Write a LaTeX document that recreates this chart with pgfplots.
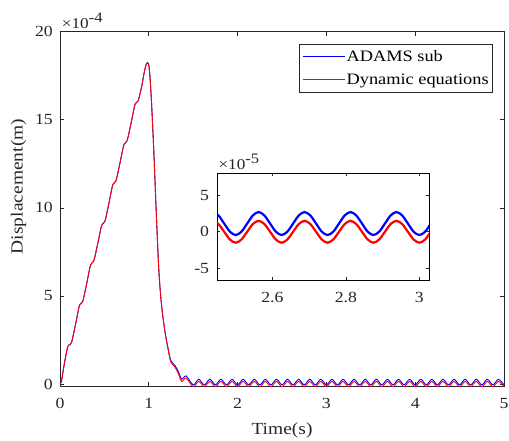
\documentclass[border=0pt]{standalone}
\usepackage{fontspec}
\setmainfont{Liberation Serif}[FakeStretch=1.15]
\usepackage{pgfplots}
\pgfplotsset{compat=1.18}
\usepackage{pgfplotstable}

\definecolor{adams}{RGB}{0,0,255}
\definecolor{dyneq}{RGB}{255,0,0}
\definecolor{axline}{RGB}{38,38,38}

% main curve, displacement in 1e-4 m
\pgfplotstableread{
t b r
0 0 0
0.015 0.12 0.12
0.037 0.8 0.8
0.064 1.57 1.57
0.086 2.1 2.1
0.1 2.22 2.22
0.13 2.36 2.36
0.1775 3.45 3.45
0.22 4.48 4.48
0.255 4.68 4.68
0.3025 5.75 5.75
0.345 6.78 6.78
0.38 6.98 6.98
0.4275 8.03 8.03
0.47 9.03 9.03
0.505 9.23 9.23
0.5525 10.3 10.3
0.595 11.33 11.33
0.63 11.53 11.53
0.6775 12.6 12.6
0.72 13.6 13.6
0.755 13.8 13.8
0.8025 14.86 14.86
0.845 15.88 15.88
0.88 16.08 16.08
0.92 16.9 16.9
0.945 17.6 17.6
0.965 18.05 18.05
0.983 18.24 18.24
1.0 18.1 18.1
1.015 17.3 17.3
1.033 15.75 15.75
1.059 12.9 12.9
1.089 9.13 9.13
1.115 6.3 6.3
1.145 4.4 4.4
1.183 2.95 2.95
1.22 1.95 1.9
1.246 1.35 1.28
1.27 1.18 1.1
1.295 1.05 0.96
1.332 0.72 0.6
1.37 0.28 0.15
1.42 0.46 0.34
1.5 -0.045 -0.15
1.5625 0.271 0.15
1.625 -0.045 -0.15
1.6875 0.271 0.15
1.75 -0.045 -0.15
1.8125 0.271 0.15
1.875 -0.045 -0.15
1.9375 0.271 0.15
2.0 -0.045 -0.15
2.0625 0.271 0.15
2.125 -0.045 -0.15
2.1875 0.271 0.15
2.25 -0.045 -0.15
2.3125 0.271 0.15
2.375 -0.045 -0.15
2.4375 0.271 0.15
2.5 -0.045 -0.15
2.5625 0.271 0.15
2.625 -0.045 -0.15
2.6875 0.271 0.15
2.75 -0.045 -0.15
2.8125 0.271 0.15
2.875 -0.045 -0.15
2.9375 0.271 0.15
3.0 -0.045 -0.15
3.0625 0.271 0.15
3.125 -0.045 -0.15
3.1875 0.271 0.15
3.25 -0.045 -0.15
3.3125 0.271 0.15
3.375 -0.045 -0.15
3.4375 0.271 0.15
3.5 -0.045 -0.15
3.5625 0.271 0.15
3.625 -0.045 -0.15
3.6875 0.271 0.15
3.75 -0.045 -0.15
3.8125 0.271 0.15
3.875 -0.045 -0.15
3.9375 0.271 0.15
4.0 -0.045 -0.15
4.0625 0.271 0.15
4.125 -0.045 -0.15
4.1875 0.271 0.15
4.25 -0.045 -0.15
4.3125 0.271 0.15
4.375 -0.045 -0.15
4.4375 0.271 0.15
4.5 -0.045 -0.15
4.5625 0.271 0.15
4.625 -0.045 -0.15
4.6875 0.271 0.15
4.75 -0.045 -0.15
4.8125 0.271 0.15
4.875 -0.045 -0.15
4.9375 0.271 0.15
5.0 -0.045 -0.15
}\mainData

% zoomed window, displacement in 1e-5 m
\pgfplotstableread{
t b r
2.4375 2.700 1.500
2.453125 2.239 1.061
2.46875 1.125 0
2.484375 0.011 -1.061
2.5 -0.450 -1.500
2.515625 0.011 -1.061
2.53125 1.125 0
2.546875 2.239 1.061
2.5625 2.700 1.500
2.578125 2.239 1.061
2.59375 1.125 0
2.609375 0.011 -1.061
2.625 -0.450 -1.500
2.640625 0.011 -1.061
2.65625 1.125 0
2.671875 2.239 1.061
2.6875 2.700 1.500
2.703125 2.239 1.061
2.71875 1.125 0
2.734375 0.011 -1.061
2.75 -0.450 -1.500
2.765625 0.011 -1.061
2.78125 1.125 0
2.796875 2.239 1.061
2.8125 2.700 1.500
2.828125 2.239 1.061
2.84375 1.125 0
2.859375 0.011 -1.061
2.875 -0.450 -1.500
2.890625 0.011 -1.061
2.90625 1.125 0
2.921875 2.239 1.061
2.9375 2.700 1.500
2.953125 2.239 1.061
2.96875 1.125 0
2.984375 0.011 -1.061
3.0 -0.450 -1.500
3.015625 0.011 -1.061
3.03125 1.125 0
3.046875 2.239 1.061
3.0625 2.700 1.500
}\insetData

\pgfplotsset{
  mlab/.style={
    scale only axis, clip mode=individual,
    axis background/.style={fill=white},
    axis line style={axline, line width=0.7bp},
    tick style={axline, line width=0.7bp},
    tick align=inside, tick pos=both, minor tick num=0,
    ticklabel style={font=\fontsize{15.5}{18}\selectfont, text=axline},
  }}

\newcommand\expnote[1]{×10\raisebox{5.5bp}{\fontsize{14.5}{17}\selectfont #1}}

\begin{document}
\begin{tikzpicture}
\path[use as bounding box] (-60bp,-54.3bp) rectangle (449bp,386.7bp);
\begin{axis}[mlab, name=main, at={(0,0)}, anchor=south west,
  width=444bp, height=355bp,
  xmin=0, xmax=5, ymin=-0.15, ymax=20,
  xtick={0,1,2,3,4,5}, xticklabels={0,1,2,3,4,5},
  ytick={0,5,10,15,20}, yticklabels={0,5,10,15,20},
  major tick length=4.5bp,
  xticklabel style={inner sep=0pt, yshift=-11bp},
  yticklabel style={inner sep=0pt, xshift=-7bp},
  xlabel={Time(s)}, ylabel={Displacement(m)},
  every axis x label/.style={at={(rel axis cs:0.5,-0.136)}, anchor=base,
    font=\fontsize{17}{20}\selectfont, text=axline},
  every axis y label/.style={at={(rel axis cs:-0.0935,0.564)}, rotate=90,
    anchor=center, font=\fontsize{17}{20}\selectfont, text=axline},
  legend cell align=left,
  legend image code/.code={\draw[#1, line width=0.8bp] (0bp,0bp) -- (42bp,0bp);},
  legend style={at={(0.9752,0.9654)}, anchor=north east,
    draw=axline, line width=0.7bp, fill=white,
    inner xsep=3bp, inner ysep=4bp, row sep=6bp,
    font=\fontsize{16}{19}\selectfont,
    nodes={inner xsep=1bp, inner ysep=1bp, text height=12.5bp, text depth=2.5bp},
    /tikz/every even column/.append style={column sep=3bp}},
]
\addplot[adams, line width=0.9bp, smooth] table[x=t, y=b] {\mainData};
\addlegendentry{ADAMS sub}
\addplot[dyneq, line width=0.9bp, smooth] table[x=t, y=r] {\mainData};
\addlegendentry{Dynamic equations}
\end{axis}

\begin{axis}[mlab, name=zoom, at={(157.3bp,106.7bp)}, anchor=south west,
  width=212bp, height=106.7bp,
  axis line style={black, line width=0.7bp},
  xmin=2.45, xmax=3.027, ymin=-6.6, ymax=8,
  xtick={2.6,2.8,3}, xticklabels={2.6,2.8,3},
  ytick={-5,0,5}, yticklabels={-5,0,5},
  major tick length=3bp,
  xticklabel style={inner sep=0pt, yshift=-12.5bp},
  yticklabel style={inner sep=0pt, xshift=-8bp},
]
\addplot[adams, line width=2.2bp, smooth] table[x=t, y=b] {\insetData};
\addplot[dyneq, line width=2.2bp, smooth] table[x=t, y=r] {\insetData};
\end{axis}

\node[anchor=base west, inner sep=0pt, text=axline,
  font=\fontsize{15}{18}\selectfont]
  at ([xshift=1.7bp, yshift=3.4bp]main.north west) {\expnote{-4}};
\node[anchor=base west, inner sep=0pt, text=axline,
  font=\fontsize{15}{18}\selectfont]
  at ([xshift=1bp, yshift=4.3bp]zoom.north west) {\expnote{-5}};
\end{tikzpicture}
\end{document}
